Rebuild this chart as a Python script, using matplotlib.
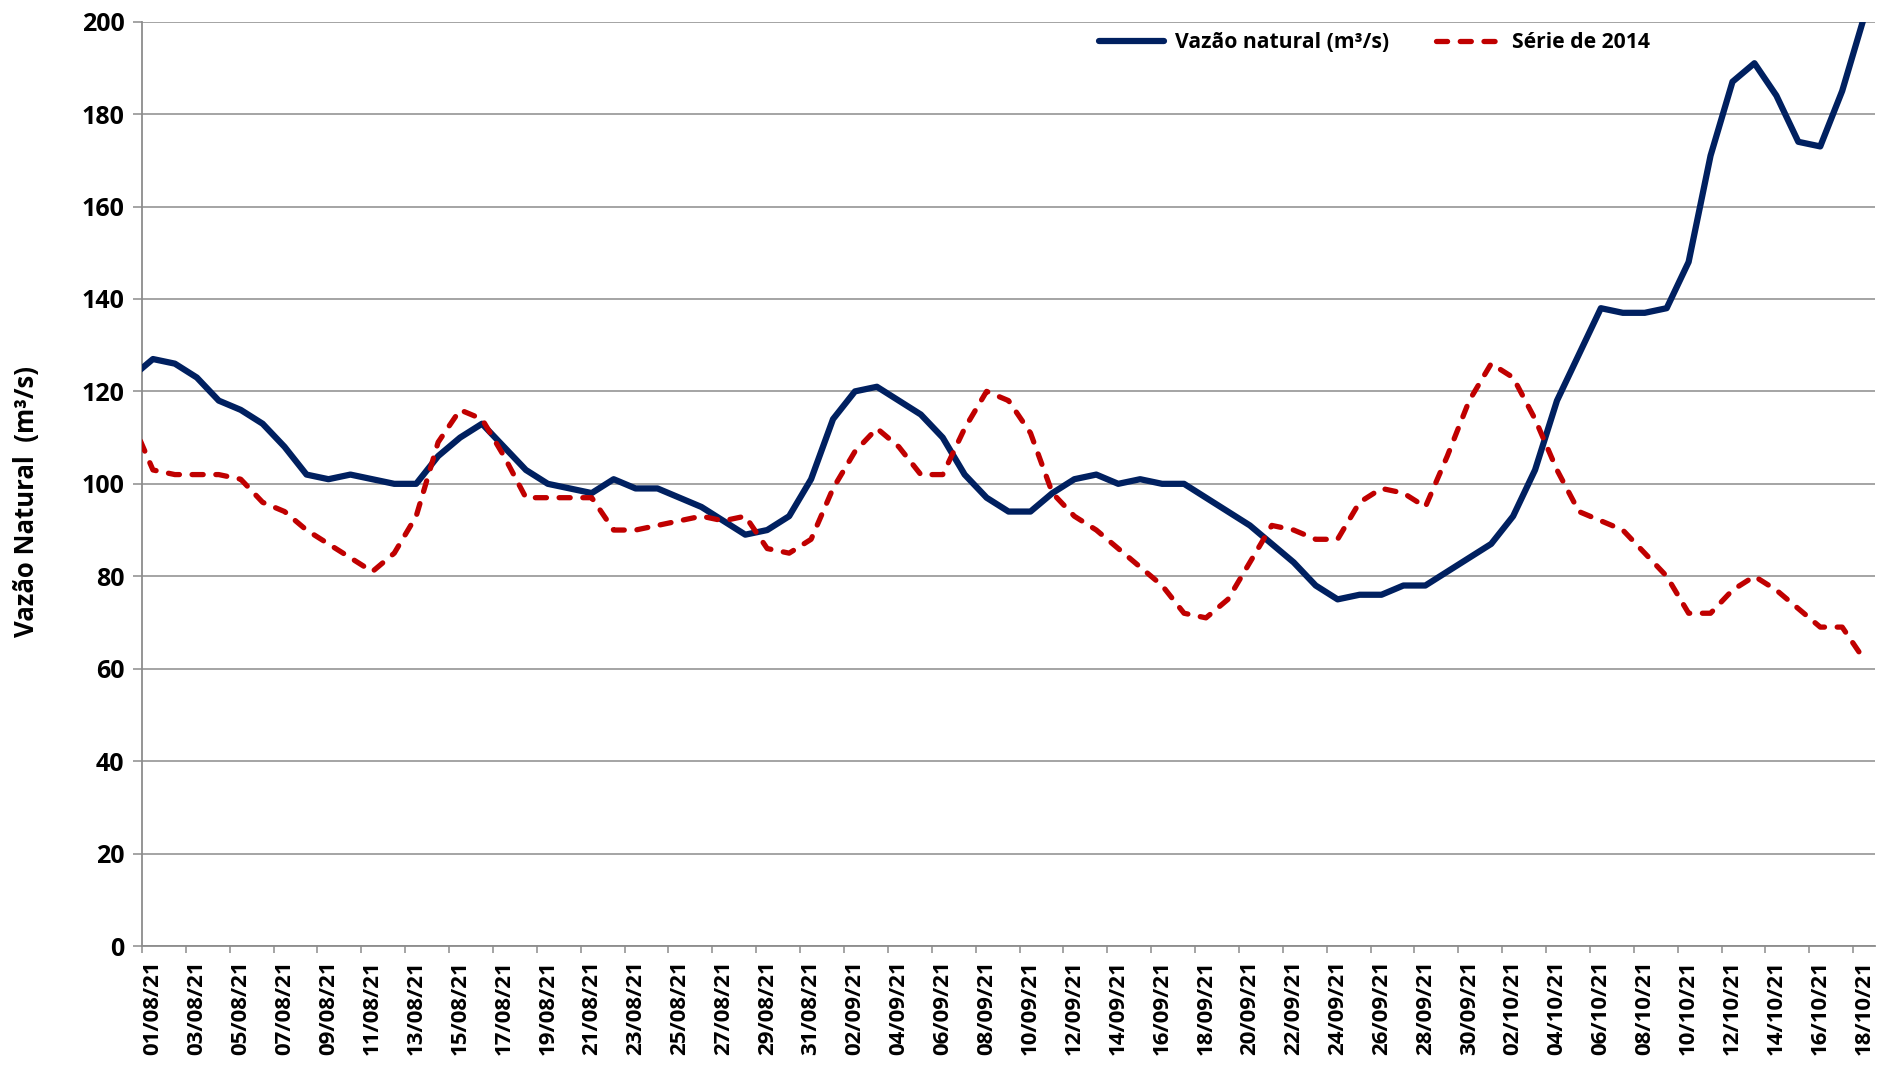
import numpy as np
import pandas as pd
import matplotlib
matplotlib.use('Agg')
import matplotlib.pyplot as plt
from matplotlib.ticker import FixedLocator

plt.rcParams['font.family'] = ['Open Sans', 'DejaVu Sans']
plt.rcParams['font.weight'] = 'bold'

# daily dates, 31/07/21 (partly outside the axis) to 18/10/21
dates = pd.date_range('2021-07-31', '2021-10-18', freq='D')

vazao_natural = [
    123,
    127, 126, 123, 118, 116, 113, 108, 102, 101, 102,
    101, 100, 100, 106, 110, 113, 108, 103, 100, 99,
    98, 101, 99, 99, 97, 95, 92, 89, 90, 93,
    101, 114, 120, 121, 118, 115, 110, 102, 97, 94,
    94, 98, 101, 102, 100, 101, 100, 100, 97, 94,
    91, 87, 83, 78, 75, 76, 76, 78, 78, 81,
    84, 87, 93, 103, 118, 128, 138, 137, 137, 138,
    148, 171, 187, 191, 184, 174, 173, 185, 201,
]

serie_2014 = [
    114,
    103, 102, 102, 102, 101, 96, 94, 90, 87, 84,
    81, 85, 93, 109, 116, 114, 106, 97, 97, 97,
    97, 90, 90, 91, 92, 93, 92, 93, 86, 85,
    88, 99, 107, 112, 108, 102, 102, 112, 120, 118,
    111, 98, 93, 90, 86, 82, 78, 72, 71, 75,
    83, 91, 90, 88, 88, 96, 99, 98, 95, 106,
    118, 126, 123, 114, 103, 94, 92, 90, 85, 80,
    72, 72, 77, 80, 77, 73, 69, 69, 62,
]

y_ticks = list(range(0, 201, 20))

BLUE = '#002060'
RED = '#C00000'
GRID = '#8c8c8c'

x = np.arange(len(dates)) - 1  # day 0 = 01/08/21

fig = plt.figure(figsize=(18.83, 10.71), dpi=100, facecolor='white')
ax = fig.add_axes([0.0754, 0.1167, 0.9204, 0.8631])

ax.plot(x, vazao_natural, color=BLUE, lw=4.5, solid_joinstyle='round',
        solid_capstyle='round', label='Vazão natural (m³/s)', zorder=3)
ax.plot(x, serie_2014, color=RED, lw=3.8, dashes=(2.1, 2.4),
        dash_capstyle='round', dash_joinstyle='round',
        label='Série de 2014', zorder=3)

ax.set_xlim(-0.5, 78.5)
ax.set_ylim(0, 200)

# y axis
ax.set_yticks(y_ticks)
ax.set_yticklabels([str(v) for v in y_ticks], fontsize=18, fontweight='bold')
ax.tick_params(axis='y', direction='out', length=6.5, width=1.1, color=GRID, pad=6)
ax.grid(axis='y', color=GRID, lw=1.1, zorder=1)

# x axis: labels every 2 days, tick marks between categories
lab_pos = np.arange(0, 79, 2)
ax.set_xticks(lab_pos)
ax.set_xticklabels([dates[i + 1].strftime('%d/%m/%y') for i in lab_pos],
                   rotation=90, fontsize=16, fontweight='bold')
ax.tick_params(axis='x', which='major', length=0, pad=10)
ax.xaxis.set_minor_locator(FixedLocator(np.arange(-0.5, 79, 2)))
ax.tick_params(axis='x', which='minor', direction='out', length=5, width=1.1, color=GRID)

for s in ['top', 'right']:
    ax.spines[s].set_visible(False)
for s in ['left', 'bottom']:
    ax.spines[s].set_color(GRID)
    ax.spines[s].set_linewidth(1.3)

ax.set_ylabel('Vazão Natural  (m³/s)', fontsize=18.5, fontweight='bold')
ax.yaxis.set_label_coords(-0.059, 0.481)

fig.legend(loc='center right', bbox_to_anchor=(0.876, 0.96), ncol=2,
           frameon=False, handlelength=3.1, handletextpad=0.5,
           columnspacing=2.2, borderpad=0, borderaxespad=0,
           prop={'family': 'Open Sans', 'weight': 'bold', 'size': 15.2})

fig.savefig('out.png', dpi=100, facecolor='white')
